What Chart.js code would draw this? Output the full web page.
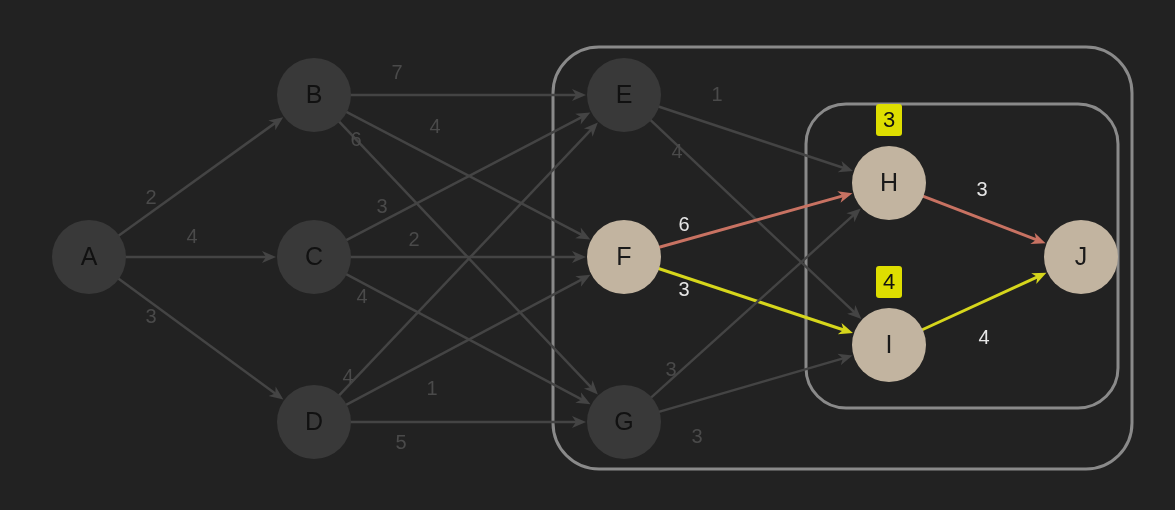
<!DOCTYPE html>
<html><head><meta charset="utf-8">
<script src="https://cdn.jsdelivr.net/npm/chart.js@4"></script>
<style>html,body{margin:0;padding:0;background:#222222;}#w{width:1175px;height:510px;}</style>
</head><body><div id="w"><canvas id="c"></canvas></div>
<script>
const nodeNames = ['A','B','C','D','E','F','G','H','I','J'];
const nodeX = [89,314,314,314,624,624,624,889,889,1081];
const nodeY = [257,95,257,422,95,257,422,183,345,257];
const nodeLit = [0,0,0,0,0,1,0,1,1,1];
const edgeFrom = ['A','A','A','B','B','B','C','C','C','D','D','D','E','E','F','F','G','G','H','I'];
const edgeTo   = ['B','C','D','E','F','G','E','F','G','E','F','G','H','I','H','I','H','I','J','J'];
const edgeW    = [2,4,3,7,4,6,3,2,4,4,1,5,1,4,6,3,3,3,3,4];
const edgeKind = [0,0,0,0,0,0,0,0,0,0,0,0,0,0,1,2,0,0,1,2];
const labelX = [151,192,151,397,435,356,382,414,362,348,432,401,717,677,684,684,671,697,982,984];
const labelY = [198,237,317,73,127,140,207,240,297,377,389,443,95,152,225,290,370,437,190,338];
const badgeVals = [3,4];
const badgeX = [889,889];
const badgeY = [120,282];

const edgeColors = ['#444444','#c87262','#d6d61c'];
const labelColors = ['#4a4a4a','#e6e6e6','#e6e6e6'];
const idx = n => nodeNames.indexOf(n);

const datasets = [];
edgeFrom.forEach((f,i)=>{
  const a=idx(f), b=idx(edgeTo[i]);
  datasets.push({type:'line',data:[{x:nodeX[a],y:nodeY[a]},{x:nodeX[b],y:nodeY[b]}],
    borderColor:'rgba(0,0,0,0)',pointRadius:0,_edge:i});
});
datasets.push({type:'scatter',data:nodeX.map((x,i)=>({x,y:nodeY[i]})),
  backgroundColor:nodeLit.map(l=>l?'#c2b4a0':'#393939'),borderWidth:0,pointRadius:37,pointHoverRadius:37,clip:false});

function rr(ctx,x1,y1,x2,y2,r){ctx.beginPath();ctx.moveTo(x1+r,y1);ctx.arcTo(x2,y1,x2,y2,r);ctx.arcTo(x2,y2,x1,y2,r);ctx.arcTo(x1,y2,x1,y1,r);ctx.arcTo(x1,y1,x2,y1,r);ctx.closePath();}

const plug = {
  id:'g',
  beforeDatasetsDraw(ch){
    const ctx=ch.ctx, sx=ch.scales.x, sy=ch.scales.y;
    const P=(x,y)=>[sx.getPixelForValue(x),sy.getPixelForValue(y)];
    ctx.save();
    ctx.strokeStyle='#8a8a8a';ctx.lineWidth=3;
    let a=P(553,47),b=P(1132,469);rr(ctx,a[0],a[1],b[0],b[1],46);ctx.stroke();
    a=P(806,104);b=P(1118,408);rr(ctx,a[0],a[1],b[0],b[1],40);ctx.stroke();
    edgeFrom.forEach((f,i)=>{
      const s=idx(f),t=idx(edgeTo[i]);
      const p1=P(nodeX[s],nodeY[s]),p2=P(nodeX[t],nodeY[t]);
      const dx=p2[0]-p1[0],dy=p2[1]-p1[1],L=Math.hypot(dx,dy),ux=dx/L,uy=dy/L;
      const ex=p2[0]-ux*38,ey=p2[1]-uy*38;
      const col=edgeColors[edgeKind[i]];
      ctx.strokeStyle=col;ctx.fillStyle=col;ctx.lineWidth=edgeKind[i]?3:2.5;
      ctx.beginPath();ctx.moveTo(p1[0]+ux*30,p1[1]+uy*30);ctx.lineTo(ex-ux*8,ey-uy*8);ctx.stroke();
      ctx.beginPath();ctx.moveTo(ex,ey);
      ctx.lineTo(ex-ux*14-uy*6,ey-uy*14+ux*6);ctx.lineTo(ex-ux*10,ey-uy*10);
      ctx.lineTo(ex-ux*14+uy*6,ey-uy*14-ux*6);ctx.closePath();ctx.fill();
    });
    ctx.font='20px "Liberation Sans", Arial, sans-serif';ctx.textAlign='center';ctx.textBaseline='middle';
    edgeW.forEach((w,i)=>{const p=P(labelX[i],labelY[i]);ctx.fillStyle=labelColors[edgeKind[i]];ctx.fillText(String(w),p[0],p[1]);});
    ctx.restore();
  },
  afterDatasetsDraw(ch){
    const ctx=ch.ctx, sx=ch.scales.x, sy=ch.scales.y;
    ctx.save();
    ctx.font='25px "Liberation Sans", Arial, sans-serif';ctx.textAlign='center';ctx.textBaseline='middle';
    nodeNames.forEach((n,i)=>{ctx.fillStyle=nodeLit[i]?'#1a1a1a':'#111111';ctx.fillText(n,sx.getPixelForValue(nodeX[i]),sy.getPixelForValue(nodeY[i])+1);});
    ctx.font='22px "Liberation Sans", Arial, sans-serif';
    badgeVals.forEach((v,i)=>{const x=sx.getPixelForValue(badgeX[i]),y=sy.getPixelForValue(badgeY[i]);
      ctx.fillStyle='#dede00';rr(ctx,x-13,y-16,x+13,y+16,3);ctx.fill();ctx.fillStyle='#111';ctx.fillText(String(v),x,y+1);});
    ctx.restore();
  }
};

new Chart(document.getElementById('c'),{
  data:{datasets},
  options:{responsive:true,maintainAspectRatio:false,animation:false,
    layout:{padding:0},
    plugins:{legend:{display:false},tooltip:{enabled:false}},
    events:[],
    scales:{x:{type:'linear',min:37,max:1138,display:false},y:{type:'linear',min:37,max:473,reverse:true,display:false}}},
  plugins:[plug]
});
</script></body></html>
